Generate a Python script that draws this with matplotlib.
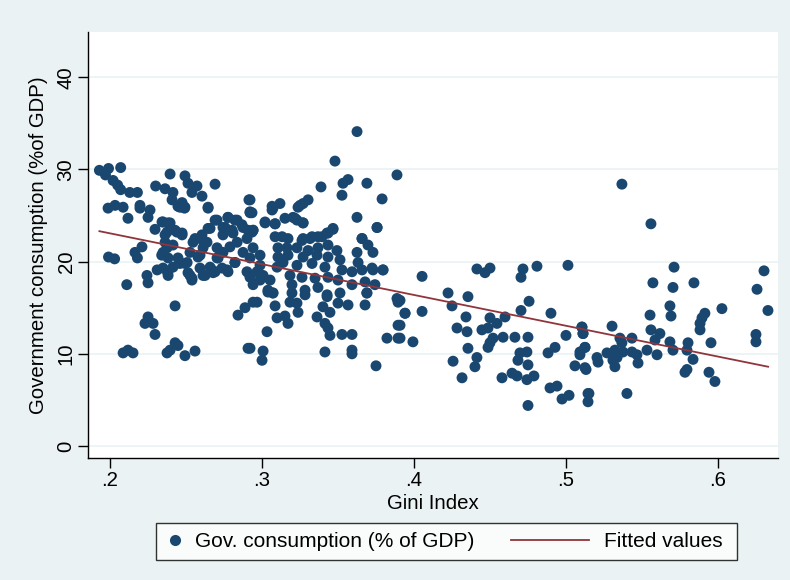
import matplotlib
matplotlib.use("Agg")
import matplotlib.pyplot as plt
from matplotlib.lines import Line2D
from matplotlib.legend_handler import HandlerBase

plt.rcParams['font.family'] = ['Liberation Sans', 'DejaVu Sans']

gini = [
    0.193, 0.199, 0.207, 0.197, 0.202, 0.205, 0.207, 0.213, 0.218, 0.230, 0.2395, 0.2362, 0.2414, 0.2408,
    0.2493, 0.2513, 0.2572, 0.2539, 0.2605, 0.2474, 0.2493, 0.2447, 0.2645, 0.2691, 0.2914, 0.2921,
    0.1987, 0.2033, 0.2086, 0.2118, 0.2197, 0.2197, 0.2263, 0.225, 0.2296, 0.2342, 0.2382, 0.2428,
    0.2474, 0.2362, 0.2645, 0.2704, 0.2776, 0.2822, 0.2868, 0.2743, 0.2803, 0.2908, 0.2559, 0.2605,
    0.199, 0.203, 0.2086, 0.2118, 0.2151, 0.211,
    0.2164, 0.221, 0.218, 0.2243, 0.225, 0.231, 0.234, 0.2375, 0.238, 0.2414, 0.2447, 0.2493, 0.2513,
    0.2539, 0.2428, 0.225, 0.223, 0.2283, 0.2296, 0.2428, 0.2447, 0.2395, 0.2375, 0.2493, 0.2559,
    0.2592, 0.2625, 0.2671, 0.2737, 0.2776, 0.2822, 0.2704, 0.2921, 0.2908, 0.2842, 0.2888, 0.2941,
    0.3625, 0.348, 0.3888, 0.3566, 0.3533, 0.369, 0.3526, 0.3388, 0.379, 0.2921, 0.2934, 0.3066,
    0.3118, 0.3066, 0.325, 0.3303, 0.327, 0.3204, 0.323, 0.327, 0.302, 0.3086, 0.3625, 0.3757, 0.3467,
    0.2941, 0.3086, 0.3132, 0.327, 0.3329, 0.3395, 0.3434, 0.3658,
    0.2967, 0.3086, 0.3099, 0.3151, 0.3171, 0.3033, 0.2921, 0.3007, 0.300, 0.3039, 0.3072, 0.3184,
    0.323, 0.3237, 0.3283, 0.3362, 0.3401, 0.3428, 0.3447, 0.3414, 0.3434, 0.3447, 0.3526, 0.3592,
    0.3414, 0.3592, 0.3592, 0.350, 0.3566, 0.3678, 0.369, 0.3822, 0.3895, 0.3895, 0.3941, 0.3895,
    0.375, 0.3796, 0.373,
    0.4053, 0.4414, 0.4467, 0.450, 0.4717, 0.4704, 0.4809, 0.5013, 0.3908, 0.3941, 0.4053, 0.3908,
    0.3908, 0.3993, 0.4224, 0.4355, 0.425, 0.4342, 0.4283, 0.4349, 0.4447, 0.4487, 0.450, 0.4546,
    0.4599, 0.4355, 0.4414, 0.4401, 0.4257, 0.4316, 0.4487, 0.450, 0.452, 0.4586, 0.4579, 0.4645,
    0.4678, 0.4743, 0.4789, 0.475, 0.4743, 0.4697, 0.4684, 0.4664, 0.475, 0.4704, 0.4757, 0.4901,
    0.500, 0.5105, 0.5112, 0.4882, 0.4928, 0.5059, 0.5125, 0.5092, 0.5125, 0.4895, 0.4941, 0.4974,
    0.502, 0.475, 0.5145, 0.5145,
    0.5368, 0.5559, 0.5711, 0.5572, 0.5704, 0.5842, 0.6303, 0.6257, 0.6329, 0.6026, 0.5684, 0.5691,
    0.5553, 0.5914, 0.5895, 0.5882, 0.5882, 0.625, 0.625, 0.5954, 0.5803, 0.5559, 0.5618, 0.5303,
    0.5105, 0.5112, 0.5125, 0.5355, 0.5434, 0.5368, 0.5586, 0.5684, 0.5704, 0.5796, 0.5836, 0.5599,
    0.5533, 0.5467, 0.5474, 0.5322, 0.5336, 0.527, 0.5204, 0.5211, 0.5309, 0.5322, 0.5375, 0.5434,
    0.5132, 0.5783, 0.5796, 0.5941, 0.598, 0.5151, 0.5401, 0.5092,
    0.246, 0.249, 0.2645, 0.2349, 0.2395, 0.2375, 0.244, 0.2474, 0.2362, 0.2414, 0.2349, 0.2382,
    0.2349, 0.2382, 0.246, 0.2507, 0.2526, 0.2539, 0.2526, 0.2546, 0.2592, 0.2638, 0.2612, 0.2579,
    0.2658, 0.2691, 0.2757, 0.2776, 0.2836, 0.2875, 0.2921, 0.2941, 0.302, 0.3086, 0.3072, 0.3151,
    0.2743, 0.2809, 0.2836, 0.2901, 0.2934, 0.2704, 0.2743, 0.2789, 0.2875, 0.2941, 0.2987, 0.2711,
    0.2822, 0.2921, 0.2987, 0.2592, 0.2658, 0.2691, 0.277, 0.2612, 0.2678, 0.2901, 0.2921, 0.2967,
    0.3007, 0.3053, 0.3099, 0.3138, 0.3105, 0.3164, 0.3105, 0.3039, 0.3072, 0.2941, 0.2987,
    0.3237, 0.3217, 0.327, 0.3757, 0.3467, 0.3428, 0.3368, 0.3316, 0.3263, 0.3658, 0.3697, 0.3171,
    0.323, 0.3303, 0.3368, 0.3434, 0.3493, 0.3625, 0.373, 0.3171, 0.327, 0.3362, 0.3434, 0.3513,
    0.3632, 0.323, 0.3329, 0.3414, 0.3526, 0.3592, 0.3658, 0.3724, 0.3796, 0.3184, 0.3263, 0.3349,
    0.3434, 0.350, 0.3592, 0.3678, 0.3743, 0.3197, 0.3283, 0.3368, 0.3428, 0.3513, 0.369, 0.3888,
    0.3197,
]
gov_cons = [
    29.9, 30.1, 30.2, 29.4, 28.8, 28.3, 27.8, 27.5, 27.5, 28.2, 29.5, 27.9, 27.5, 26.7,
    29.3, 28.5, 28.2, 27.5, 27.1, 26.4, 25.9, 26.0, 25.9, 28.4, 26.7, 25.3,
    25.8, 26.1, 25.9, 24.7, 26.1, 25.8, 25.6, 24.8, 23.5, 24.3, 24.2, 23.4,
    23.1, 22.9, 23.6, 24.5, 24.8, 24.5, 24.0, 23.7, 23.4, 23.4, 22.5, 22.9,
    20.5, 20.3, 10.1, 10.4, 10.1, 17.5,
    21.0, 21.6, 20.4, 18.5, 17.7, 19.1, 20.7, 21.5, 18.8, 19.4, 20.4, 19.8, 18.8,
    18.2, 15.2, 14.0, 13.3, 13.3, 12.1, 11.2, 10.9, 10.4, 10.1, 9.8, 10.3,
    20.7, 18.5, 19.1, 19.3, 18.9, 19.9, 20.4, 18.5, 10.6, 14.2, 15.0, 15.6,
    34.1, 30.9, 29.4, 28.9, 28.5, 28.5, 27.2, 28.1, 26.8, 26.7, 25.3, 26.0,
    26.3, 25.6, 26.1, 26.7, 26.3, 24.8, 24.5, 24.2, 24.3, 24.1, 24.8, 23.7, 23.5,
    23.4, 22.7, 22.7, 22.5, 22.7, 22.7, 23.1, 22.5,
    15.6, 15.2, 13.9, 14.1, 13.3, 12.4, 10.6, 10.3, 9.3, 16.9, 16.6, 15.6,
    15.5, 14.5, 16.4, 14.0, 15.1, 16.2, 14.5, 13.3, 12.8, 12.0, 12.1, 12.1,
    10.2, 10.4, 10.0, 15.5, 15.3, 15.3, 16.6, 11.7, 11.7, 13.1, 14.4, 15.6,
    8.7, 19.1, 19.1,
    18.4, 19.2, 18.8, 19.3, 19.2, 18.3, 19.5, 19.6, 15.8, 14.4, 14.6, 13.1,
    11.7, 11.3, 16.6, 16.2, 15.2, 14.0, 12.8, 12.4, 12.6, 12.8, 13.9, 13.3,
    14.0, 10.6, 9.6, 8.6, 9.2, 7.4, 10.7, 11.2, 11.7, 11.8, 7.4, 7.9,
    7.6, 7.2, 7.6, 8.8, 10.2, 10.1, 9.3, 11.8, 11.8, 14.7, 15.7, 14.4,
    12.0, 12.9, 12.2, 10.1, 10.7, 8.7, 8.5, 9.9, 10.7, 6.3, 6.5, 5.1,
    5.5, 4.4, 5.7, 4.8,
    28.4, 24.1, 19.4, 17.7, 17.2, 17.7, 19.0, 17.0, 14.7, 14.9, 15.2, 14.1,
    14.2, 14.4, 13.9, 13.3, 12.6, 12.1, 11.3, 11.2, 11.2, 12.6, 12.2, 13.0,
    12.9, 12.2, 10.7, 11.7, 11.7, 11.2, 11.5, 11.3, 10.4, 10.4, 9.4, 9.9,
    10.4, 9.9, 9.0, 10.4, 9.6, 10.1, 9.6, 9.1, 9.3, 8.6, 10.2, 10.2,
    8.3, 8.0, 8.3, 8.0, 7.0, 5.7, 5.7, 10.2,
    25.9, 25.8, 25.8, 24.3, 24.2, 23.2, 23.2, 22.9, 22.1, 21.8, 21.0, 20.4,
    19.3, 18.5, 19.8, 19.9, 18.5, 18.0, 21.0, 22.1, 22.5, 22.1, 21.5, 20.5,
    23.6, 24.5, 23.7, 24.8, 24.5, 23.7, 25.4, 23.4, 24.2, 24.1, 25.8, 24.7,
    22.9, 23.1, 22.1, 22.5, 23.2, 21.5, 21.0, 21.6, 21.0, 21.5, 20.7, 20.4,
    19.9, 20.4, 19.6, 19.3, 19.4, 18.9, 19.1, 18.5, 18.8, 18.9, 18.3, 18.9,
    18.5, 18.0, 19.4, 19.9, 20.5, 21.5, 21.5, 16.7, 16.6, 17.5, 18.0,
    25.9, 24.7, 24.2, 23.7, 23.6, 23.1, 22.7, 22.5, 22.3, 22.5, 21.8, 22.5,
    21.5, 21.2, 21.5, 21.8, 21.2, 21.0, 21.0, 20.7, 20.5, 20.7, 20.5, 20.2,
    19.9, 19.6, 19.8, 19.4, 19.1, 18.9, 19.1, 19.3, 19.1, 18.5, 18.3, 18.2,
    18.3, 18.0, 17.5, 17.8, 17.5, 17.5, 16.9, 17.2, 16.4, 16.6, 16.6, 16.0,
    16.6,
]

fit_x = [0.193, 0.633]
fit_y = [23.3, 8.6]

x_ticks = [0.2, 0.3, 0.4, 0.5, 0.6]
x_tick_labels = ['.2', '.3', '.4', '.5', '.6']
y_ticks = [0, 10, 20, 30, 40]

bg = '#EAF2F3'
navy = '#1A476F'
maroon = '#90353B'
FS = 14.7
LFS = 15


class LongLineHandler(HandlerBase):
    """Draws the line key extending to the left of the (short) handle box."""
    def create_artists(self, legend, orig_handle, xdescent, ydescent, width, height,
                       fontsize, trans):
        y = height / 2.0 - ydescent
        ln = Line2D([-45.0, 11.5], [y, y], color=orig_handle.get_color(),
                    lw=orig_handle.get_linewidth(), transform=trans)
        return [ln]


fig = plt.figure(figsize=(7.9, 5.8), dpi=100, facecolor=bg)
ax = fig.add_axes([0.1114, 0.2103, 0.8734, 0.7345])
ax.set_facecolor('white')

for yt in y_ticks:
    ax.axhline(yt, color=bg, lw=1.2, zorder=0)

ax.scatter(gini, gov_cons, s=62, color=navy, edgecolors='none', zorder=2)
ax.plot(fit_x, fit_y, color=maroon, lw=1.3, zorder=3)

ax.set_xlim(0.1855, 0.6395)
ax.set_ylim(-1.3, 44.9)
ax.set_xticks(x_ticks)
ax.set_xticklabels(x_tick_labels)
ax.set_yticks(y_ticks)
ax.set_yticklabels([str(v) for v in y_ticks], rotation=90, va='center')

for s in ['top', 'right']:
    ax.spines[s].set_visible(False)
for s in ['left', 'bottom']:
    ax.spines[s].set_color('black')
    ax.spines[s].set_linewidth(1.0)
ax.tick_params(axis='both', direction='out', length=7, width=1, color='black',
               labelsize=FS, labelcolor='black', pad=2)

ax.set_xlabel('Gini Index', fontsize=FS, labelpad=3)
ax.set_ylabel('Government consumption (%of GDP)', fontsize=FS, labelpad=6)

marker_handle = Line2D([0], [0], marker='o', color='none', markerfacecolor=navy,
                       markeredgecolor='none', markersize=8)
line_handle = Line2D([0], [0], color=maroon, lw=1.3)
leg = fig.legend([marker_handle, line_handle],
                 ['Gov. consumption (% of GDP)', 'Fitted values '],
                 handler_map={line_handle: LongLineHandler()},
                 loc='center', bbox_to_anchor=(0.5652, 0.0664), ncol=2,
                 frameon=True, fancybox=False, fontsize=LFS, handlelength=1.0,
                 columnspacing=4.74, borderpad=0.42, handletextpad=0.45,
                 borderaxespad=0)
leg.get_frame().set_edgecolor('black')
leg.get_frame().set_linewidth(1.0)
leg.get_frame().set_facecolor('white')

fig.savefig('out.png', dpi=100, facecolor=bg)
